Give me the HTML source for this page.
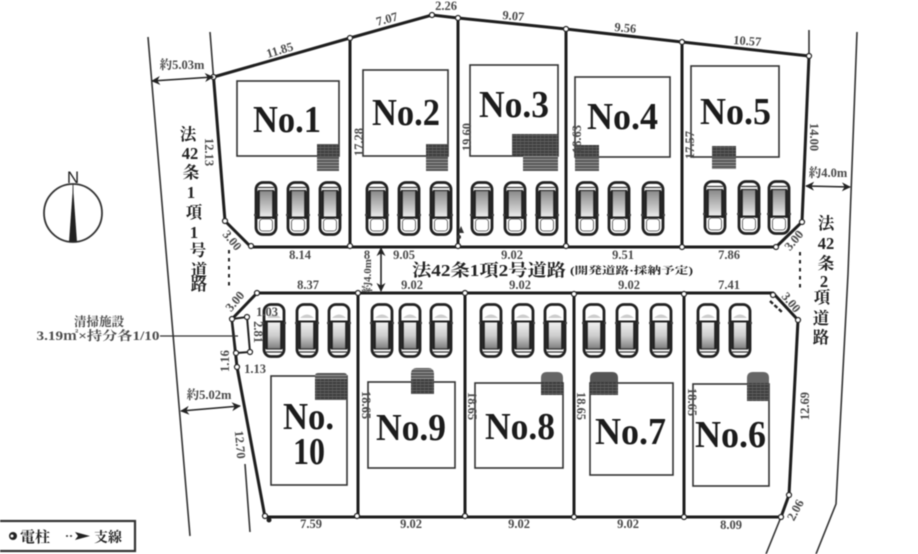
<!DOCTYPE html>
<html lang="ja"><head><meta charset="utf-8"><title>区画図</title>
<style>
html,body{margin:0;padding:0;background:#fff;width:918px;height:554px;overflow:hidden}
svg{display:block;filter:blur(0.6px)}
text{font-family:"Liberation Serif","Noto Serif CJK SC",serif;fill:#222}
.no{font-weight:bold;font-size:38px;fill:#1c1c1c}
.d{font-size:12.5px;font-weight:bold;fill:#4a4a4a;text-anchor:middle}
.r{font-size:16.5px;fill:#222;text-anchor:middle;font-weight:bold}
.b{fill:none;stroke:#1e1e1e;stroke-width:3}
.h{fill:#fff;stroke:#333;stroke-width:1.6}
.p{fill:#fff;stroke:#222;stroke-width:1.2}
</style></head><body>
<svg width="918" height="554" viewBox="0 0 918 554" xmlns="http://www.w3.org/2000/svg">
<defs>
<linearGradient id="g2" x1="0" y1="0" x2="0" y2="1"><stop offset="0" stop-color="#8a8a8a"/><stop offset=".75" stop-color="#d0d0d0"/><stop offset="1" stop-color="#eee"/></linearGradient>
<linearGradient id="g3" x1="0" y1="0" x2="0" y2="1"><stop offset="0" stop-color="#eee"/><stop offset=".5" stop-color="#ccc"/><stop offset="1" stop-color="#7c7c7c"/></linearGradient>
<symbol id="ct" width="24" height="55" viewBox="0 0 24 55" overflow="visible">
<rect x="2" y="1.500" width="20" height="52" rx="7" fill="#fff" stroke="#222" stroke-width="2.8"/>
<rect x="5" y="10" width="14" height="26" fill="url(#g2)"/>
<path d="M4 6.500h16M4 9.500h16" stroke="#333" stroke-width="1.3"/>
<rect x="5.500" y="38" width="13" height="12" rx="3" fill="#fff" stroke="#444" stroke-width=".8"/>
<path d="M3 36.500h18" stroke="#222" stroke-width="2"/>
<path d="M4.500 10v28M19.500 10v28" stroke="#222" stroke-width="2.6"/>
<path d="M0 34h2M22 34h2" stroke="#444" stroke-width="2"/>
</symbol>
<symbol id="cb" width="24" height="55" viewBox="0 0 24 55" overflow="visible">
<rect x="2" y="1.500" width="20" height="52" rx="7" fill="#fff" stroke="#222" stroke-width="2.8"/>
<rect x="5" y="20" width="14" height="26" fill="url(#g3)"/>
<path d="M4 46h16M4 49h16" stroke="#333" stroke-width="1.3"/>
<path d="M5 15 Q12 8 19 15Z" fill="#ccc"/>
<path d="M3 18.500h18" stroke="#222" stroke-width="2"/>
<path d="M4.500 18v28M19.500 18v28" stroke="#222" stroke-width="2.6"/>
<path d="M0 20h2M22 20h2" stroke="#444" stroke-width="2"/>
</symbol>
<pattern id="st" width="4" height="3" patternUnits="userSpaceOnUse"><rect width="4" height="3" fill="#3c3c3c"/><path d="M0 .5h4" stroke="#777" stroke-width=".6"/><path d="M.5 0v3" stroke="#666" stroke-width=".5"/></pattern>
<pattern id="st2" width="4" height="3" patternUnits="userSpaceOnUse"><rect width="4" height="3" fill="#555"/><path d="M0 .5h4" stroke="#aaa" stroke-width=".8"/></pattern>
<marker id="ah" viewBox="0 0 10 10" refX="9" refY="5" markerWidth="9" markerHeight="9" orient="auto-start-reverse" markerUnits="userSpaceOnUse"><path d="M0 0L10 5L0 10L3 5Z" fill="#222"/></marker>
</defs>

<!-- road edges -->
<path d="M148 37L190 536M210 32L213.500 77M245 464L250 532M809 30V56M857 32L848 274L836 504L816 554M781 517L766 554" fill="none" stroke="#333" stroke-width="1.6"/>

<!-- houses top -->
<rect class="h" x="237" y="81" width="102" height="75"/>
<rect class="h" x="363" y="70" width="85" height="86"/>
<rect class="h" x="470" y="65" width="88" height="91"/>
<rect class="h" x="575" y="77" width="95" height="80"/>
<rect class="h" x="691" y="66" width="88" height="91"/>
<!-- houses bottom -->
<rect class="h" x="271" y="376" width="76" height="109"/>
<rect class="h" x="368" y="382" width="87" height="86"/>
<rect class="h" x="475" y="383" width="88" height="85"/>
<rect class="h" x="590" y="383" width="83" height="92"/>
<rect class="h" x="693" y="384" width="76" height="102"/>

<!-- stairs top -->
<rect x="317" y="144" width="22" height="13" fill="url(#st)"/><rect x="317" y="157" width="22" height="14" fill="url(#st2)"/>
<rect x="426" y="144" width="22" height="13" fill="url(#st)"/><rect x="426" y="157" width="22" height="14" fill="url(#st2)"/>
<rect x="512" y="134" width="46" height="22" fill="url(#st)"/><rect x="523" y="156" width="35" height="15" fill="url(#st2)"/>
<rect x="575" y="145" width="24" height="12" fill="url(#st)"/><rect x="575" y="157" width="24" height="14" fill="url(#st2)"/>
<rect x="712" y="146" width="24" height="11" fill="url(#st)"/><rect x="712" y="157" width="24" height="12" fill="url(#st2)"/>
<!-- stairs bottom -->
<path d="M315 376q0-3 3-3h26q3 0 3 3v3h-32z" fill="url(#st2)"/><rect x="315" y="379" width="32" height="21" fill="url(#st)"/>
<path d="M411 374q0-6 6-6h11q6 0 6 6v5h-23z" fill="url(#st2)"/><rect x="411" y="379" width="23" height="15" fill="url(#st)"/>
<path d="M541 378q0-6 6-6h10q6 0 6 6v4h-22z" fill="#666"/><rect x="541" y="382" width="22" height="13" fill="url(#st)"/>
<path d="M590 378q0-6 6-6h16q6 0 6 6v4h-28z" fill="#555"/><rect x="590" y="382" width="28" height="13" fill="url(#st)"/>
<path d="M747 378q0-6 6-6h10q6 0 6 6v5h-22z" fill="#666"/><rect x="747" y="383" width="22" height="18" fill="url(#st)"/>

<!-- cars top -->
<use href="#ct" x="254" y="181"/><use href="#ct" x="286" y="181"/><use href="#ct" x="318" y="181"/>
<use href="#ct" x="365" y="181"/><use href="#ct" x="397" y="181"/><use href="#ct" x="429" y="181"/>
<use href="#ct" x="470" y="181"/><use href="#ct" x="503" y="181"/><use href="#ct" x="535" y="181"/>
<use href="#ct" x="575" y="181"/><use href="#ct" x="607" y="181"/><use href="#ct" x="641" y="181"/>
<use href="#ct" x="703" y="180"/><use href="#ct" x="737" y="180"/><use href="#ct" x="767" y="180"/>
<!-- cars bottom -->
<use href="#cb" x="262" y="303"/><use href="#cb" x="295" y="303"/><use href="#cb" x="327" y="303"/>
<use href="#cb" x="370" y="303"/><use href="#cb" x="398" y="303"/><use href="#cb" x="429" y="303"/>
<use href="#cb" x="479" y="303"/><use href="#cb" x="511" y="303"/><use href="#cb" x="543" y="303"/>
<use href="#cb" x="582" y="303"/><use href="#cb" x="615" y="303"/><use href="#cb" x="649" y="303"/>
<use href="#cb" x="696" y="303"/><use href="#cb" x="728" y="303"/>

<!-- lot boundaries -->
<path class="b" d="M213.500 77L350 38L432 15L458 18L566 29L682 42L809 56L802 222L776 247H251L225 221Z"/>
<path class="b" d="M350 38V246M458 18V246M566 29V246M682 42V246"/>
<path class="b" d="M257 293H773L798 320L789 495L781 517H265L237 367L232 319Z"/>
<path class="b" d="M358 293V516M465 293V516M574 293V516M684 293V516"/>
<path d="M232 319L247 317L250 352L236 353Z" fill="#fff" stroke="#222" stroke-width="2"/>
<path d="M770 301L783 313" stroke="#222" stroke-width="2.4" stroke-dasharray="4 2"/>

<!-- corner points -->
<g class="p">
<circle cx="213.500" cy="77" r="2.500"/><circle cx="350" cy="38" r="2.500"/><circle cx="432" cy="15" r="2.500"/><circle cx="458" cy="18" r="2.500"/><circle cx="566" cy="29" r="2.500"/><circle cx="682" cy="42" r="2.500"/><circle cx="809" cy="56" r="2.500"/><circle cx="802" cy="222" r="2.500"/><circle cx="776" cy="247" r="2.500"/><circle cx="682" cy="247" r="2.500"/><circle cx="566" cy="246" r="2.500"/><circle cx="458" cy="246" r="2.500"/><circle cx="350" cy="246" r="2.500"/><circle cx="251" cy="246" r="2.500"/><circle cx="225" cy="221" r="2.500"/>
<circle cx="257" cy="293" r="2.500"/><circle cx="358" cy="293" r="2.500"/><circle cx="465" cy="293" r="2.500"/><circle cx="574" cy="294" r="2.500"/><circle cx="684" cy="294" r="2.500"/><circle cx="773" cy="295" r="2.500"/><circle cx="798" cy="320" r="2.500"/><circle cx="789" cy="495" r="2.500"/><circle cx="781" cy="517" r="2.500"/><circle cx="684" cy="517" r="2.500"/><circle cx="574" cy="517" r="2.500"/><circle cx="465" cy="516" r="2.500"/><circle cx="357" cy="516" r="2.500"/><circle cx="265" cy="516" r="2.500"/><circle cx="237" cy="367" r="2.500"/><circle cx="232" cy="319" r="2.500"/><circle cx="247" cy="317" r="2.500"/><circle cx="250" cy="352" r="2.500"/><circle cx="236" cy="353" r="2.500"/>
</g>
<circle cx="269" cy="520" r="2.500" fill="#222"/>

<!-- No labels -->
<text class="no" x="253" y="132" textLength="68" lengthAdjust="spacingAndGlyphs">No.1</text>
<text class="no" x="372" y="125" textLength="68" lengthAdjust="spacingAndGlyphs">No.2</text>
<text class="no" x="479" y="117" textLength="70" lengthAdjust="spacingAndGlyphs">No.3</text>
<text class="no" x="587" y="129" textLength="71" lengthAdjust="spacingAndGlyphs">No.4</text>
<text class="no" x="700" y="124" textLength="71" lengthAdjust="spacingAndGlyphs">No.5</text>
<text class="no" x="376" y="440" textLength="70" lengthAdjust="spacingAndGlyphs">No.9</text>
<text class="no" x="485" y="439" textLength="70" lengthAdjust="spacingAndGlyphs">No.8</text>
<text class="no" x="595" y="444" textLength="71" lengthAdjust="spacingAndGlyphs">No.7</text>
<text class="no" x="695" y="447" textLength="71" lengthAdjust="spacingAndGlyphs">No.6</text>
<text class="no" x="283" y="429" textLength="51" lengthAdjust="spacingAndGlyphs">No.</text>
<text class="no" x="293" y="464" textLength="32" lengthAdjust="spacingAndGlyphs">10</text>

<!-- dims -->
<text class="d" transform="translate(281,54) rotate(-17)">11.85</text>
<text class="d" transform="translate(388,23) rotate(-15)">7.07</text>
<text class="d" x="446" y="10">2.26</text>
<text class="d" transform="translate(513,20) rotate(5)">9.07</text>
<text class="d" transform="translate(625,32) rotate(5)">9.56</text>
<text class="d" transform="translate(747,45) rotate(4)">10.57</text>
<text class="d" x="300" y="259">8.14</text>
<text class="d" x="367" y="259">8</text>
<text class="d" x="404" y="259">9.05</text>
<text class="d" x="512" y="259">9.02</text>
<text class="d" x="623" y="259">9.51</text>
<text class="d" x="729" y="259">7.86</text>
<text class="d" transform="translate(229,243) rotate(50)">3.00</text>
<text class="d" transform="translate(797,243) rotate(-50)">3.00</text>
<text class="d" transform="translate(205,152) rotate(90)">12.13</text>
<text class="d" transform="translate(363,142) rotate(-90)">17.28</text>
<text class="d" transform="translate(471,137) rotate(-90)">19.60</text>
<text class="d" transform="translate(581,139) rotate(-90)">18.63</text>
<text class="d" transform="translate(694,145) rotate(-90)">17.57</text>
<text class="d" transform="translate(810,137) rotate(90)">14.00</text>
<text class="d" x="308" y="289">8.37</text>
<text class="d" x="412" y="289">9.02</text>
<text class="d" x="520" y="289">9.02</text>
<text class="d" x="629" y="289">9.02</text>
<text class="d" x="729" y="289">7.41</text>
<text class="d" x="311" y="528">7.59</text>
<text class="d" x="411" y="528">9.02</text>
<text class="d" x="519" y="528">9.02</text>
<text class="d" x="628" y="528">9.02</text>
<text class="d" x="731" y="529">8.09</text>
<text class="d" transform="translate(236,445) rotate(85)">12.70</text>
<text class="d" transform="translate(362,405) rotate(90)">18.65</text>
<text class="d" transform="translate(468,406) rotate(90)">18.65</text>
<text class="d" transform="translate(577,406) rotate(90)">18.65</text>
<text class="d" transform="translate(688,402) rotate(90)">18.65</text>
<text class="d" transform="translate(809,406) rotate(-90)">12.69</text>
<text class="d" transform="translate(799,512) rotate(-62)">2.06</text>
<text class="d" transform="translate(238,304) rotate(-50)">3.00</text>
<text class="d" transform="translate(788,305) rotate(50)">3.00</text>
<text class="d" x="267" y="316">1.03</text>
<text class="d" transform="translate(254,332) rotate(90)">2.81</text>
<text class="d" transform="translate(229,361) rotate(-90)">1.16</text>
<text class="d" x="255" y="373">1.13</text>
<text class="d" transform="translate(371,276) rotate(-90)" style="font-size:11px">約4.0m</text>

<!-- Road labels -->
<text class="r" x="188" y="140">法</text><text class="r" x="190" y="159">42</text><text class="r" x="191" y="178">条</text><text class="r" x="191" y="198">1</text><text class="r" x="194" y="218">項</text><text class="r" x="194" y="238">1</text><text class="r" x="198" y="256">号</text><text class="r" x="199" y="276">道</text><text class="r" x="199" y="290">路</text>
<text class="r" x="826" y="229">法</text><text class="r" x="826" y="249">42</text><text class="r" x="826" y="269">条</text><text class="r" x="824" y="287">2</text><text class="r" x="822" y="303">項</text><text class="r" x="821" y="324">道</text><text class="r" x="821" y="343">路</text>
<text x="412" y="276" font-size="17" font-weight="bold" textLength="154" lengthAdjust="spacingAndGlyphs">法42条1項2号道路</text>
<text x="570" y="274" font-size="10" font-weight="bold" textLength="123" lengthAdjust="spacingAndGlyphs">(開発道路·採納予定)</text>

<!-- width arrows -->
<text class="d" x="182" y="69">約5.03m</text>
<path d="M152 81L213 77" stroke="#222" stroke-width="1.5" marker-start="url(#ah)" marker-end="url(#ah)"/>
<text class="d" x="828" y="177">約4.0m</text>
<path d="M806 186L850 187" stroke="#222" stroke-width="1.5" marker-start="url(#ah)" marker-end="url(#ah)"/>
<text class="d" x="209" y="399">約5.02m</text>
<path d="M181 411L240 406" stroke="#222" stroke-width="1.5" marker-start="url(#ah)" marker-end="url(#ah)"/>
<path d="M381 248V291" stroke="#222" stroke-width="1.6" marker-start="url(#ah)" marker-end="url(#ah)"/>

<!-- dotted guy wires -->
<path d="M229 250V290M800 252V290" stroke="#222" stroke-width="2" stroke-dasharray="3.500 4.500"/>
<path d="M461 226l3 7h-6z" fill="#333"/><circle cx="459" cy="237" r="2" fill="#333"/>

<!-- cleaning facility -->
<text class="d" x="99" y="326">清掃施設</text>
<text class="d" x="98" y="340" textLength="123" lengthAdjust="spacingAndGlyphs">3.19㎡×持分各1/10</text>
<path d="M160 336H238" stroke="#333" stroke-width="1.2"/>

<!-- compass -->
<circle cx="73" cy="213" r="29" fill="#fff" stroke="#333" stroke-width="1.8"/>
<path d="M73 186L69 242H77Z" fill="#222"/><path d="M73 184V242" stroke="#222" stroke-width=".8"/>
<text x="73" y="183" font-size="17" text-anchor="middle" style="font-family:'Liberation Sans',sans-serif">N</text>

<!-- legend -->
<rect x="-3" y="521" width="138" height="30" fill="#fff" stroke="#333" stroke-width="2.2"/>
<circle cx="13" cy="536" r="4" fill="#222"/><circle cx="12" cy="536" r="1.500" fill="#fff"/>
<text x="20" y="542" font-size="15" font-weight="bold" style="font-family:'Noto Serif CJK SC','Noto Sans CJK JP',serif">電柱</text>
<path d="M66 536H74" stroke="#333" stroke-width="1.6" stroke-dasharray="2 2"/><path d="M75 532L90 536L75 540L78 536Z" fill="#222"/>
<text x="94" y="542" font-size="14" font-weight="bold" style="font-family:'Noto Serif CJK SC','Noto Sans CJK JP',serif">支線</text>
</svg>
</body></html>
